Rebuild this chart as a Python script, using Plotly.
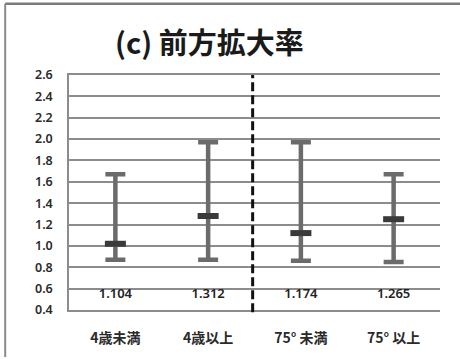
import plotly.graph_objects as go

categories = ["4歳未満", "4歳以上", "75° 未満", "75° 以上"]
means = [1.02, 1.28, 1.12, 1.25]
lows = [0.87, 0.87, 0.86, 0.85]
highs = [1.67, 1.97, 1.97, 1.67]
value_labels = ["1.104", "1.312", "1.174", "1.265"]
label_y = 0.545
y_ticks = [0.4, 0.6, 0.8, 1.0, 1.2, 1.4, 1.6, 1.8, 2.0, 2.2, 2.4, 2.6]
title_text = "(c) 前方拡大率"

xs = list(range(len(categories)))
fig = go.Figure()

fig.add_trace(go.Scatter(
    x=xs, y=means, mode="markers",
    marker=dict(symbol="line-ew-open", size=15, color="#3a3a3a",
                line=dict(width=6, color="#3a3a3a")),
    error_y=dict(type="data", symmetric=False,
                 array=[h - m for h, m in zip(highs, means)],
                 arrayminus=[m - l for m, l in zip(means, lows)],
                 color="#6b6b6b", thickness=4.5, width=10),
    showlegend=False, hoverinfo="skip",
))

fig.add_trace(go.Scatter(
    x=xs, y=[label_y] * len(xs), mode="text", text=value_labels,
    textfont=dict(family="Noto Sans", size=13, color="#222222", weight=600),
    showlegend=False, hoverinfo="skip",
))

# divider
fig.add_shape(type="line", xref="x", yref="paper", x0=1.48, x1=1.48, y0=-0.01, y1=1.0,
              line=dict(color="#111111", width=3, dash="9px,4px"))
# outer frame
fig.add_shape(type="line", xref="paper", yref="paper", x0=-0.172, x1=1.06, y0=1.303, y1=1.303,
              line=dict(color="#7a7a7a", width=2.5))
fig.add_shape(type="line", xref="paper", yref="paper", x0=-0.172, x1=-0.172, y0=-0.2, y1=1.303,
              line=dict(color="#8a8a8a", width=2))

fig.add_annotation(text="<b>" + title_text + "</b>", xref="paper", yref="paper",
                   x=0.38, y=1.145, showarrow=False, yanchor="middle",
                   font=dict(family="Noto Sans CJK JP", size=29, color="#1a1a1a"))

fig.update_xaxes(range=[-0.5, 3.5], tickvals=xs, ticktext=categories,
                 showgrid=False, zeroline=False, showline=True, mirror=True,
                 linecolor="#8c8c8c", linewidth=1.5, ticks="",
                 tickfont=dict(family="Noto Sans CJK JP", size=14, color="#2a2a2a", weight=700),
                 ticklabelstandoff=14)
fig.update_yaxes(range=[0.4, 2.6], tickvals=y_ticks, ticktext=[f"{v:.1f}" for v in y_ticks],
                 showgrid=True, gridcolor="#8c8c8c", gridwidth=1.5, zeroline=False,
                 showline=True, linecolor="#8c8c8c", linewidth=1.5, ticks="",
                 tickfont=dict(family="Noto Sans", size=12.5, color="#2a2a2a", weight=600),
                 ticklabelstandoff=12)

fig.update_layout(width=460, height=359, margin=dict(l=69, r=20, t=75, b=47),
                  plot_bgcolor="white", paper_bgcolor="white")

fig.write_html("out.html")
